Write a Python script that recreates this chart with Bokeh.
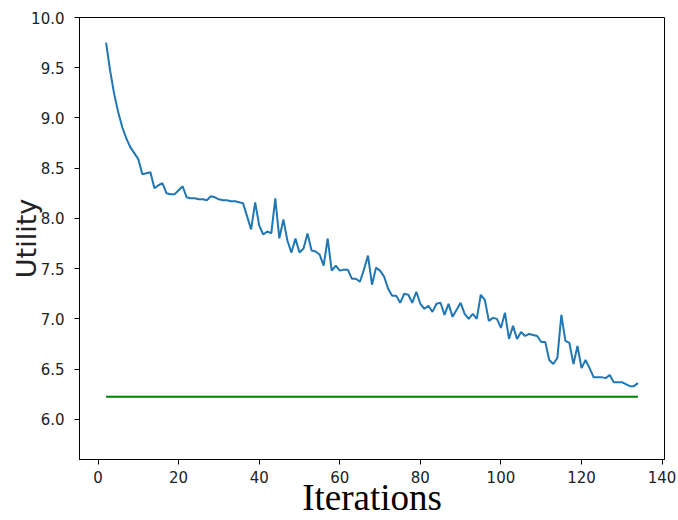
from bokeh.plotting import figure
from bokeh.models import Range1d, FixedTicker, PrintfTickFormatter
from bokeh.embed import file_html
from bokeh.resources import INLINE

iterations = list(range(2, 135))
utility = [
    9.75, 9.47, 9.24, 9.06, 8.91, 8.80, 8.71, 8.65, 8.59, 8.44,
    8.45, 8.46, 8.30, 8.33, 8.35, 8.25, 8.24, 8.24, 8.28, 8.32,
    8.21, 8.20, 8.20, 8.19, 8.19, 8.18, 8.22, 8.21, 8.19, 8.18,
    8.18, 8.17, 8.17, 8.16, 8.15, 8.02, 7.89, 8.16, 7.93, 7.84,
    7.87, 7.85, 8.20, 7.80, 7.99, 7.78, 7.66, 7.80, 7.66, 7.70,
    7.85, 7.68, 7.67, 7.64, 7.53, 7.80, 7.48, 7.53, 7.48, 7.49,
    7.49, 7.40, 7.40, 7.37, 7.49, 7.63, 7.34, 7.51, 7.48, 7.42,
    7.30, 7.23, 7.23, 7.16, 7.25, 7.24, 7.16, 7.27, 7.15, 7.10,
    7.13, 7.07, 7.15, 7.16, 7.04, 7.15, 7.02, 7.09, 7.16, 7.05,
    7.00, 7.05, 7.00, 7.24, 7.19, 6.98, 7.01, 7.00, 6.91, 7.06,
    6.80, 6.93, 6.80, 6.87, 6.83, 6.85, 6.84, 6.83, 6.77, 6.77,
    6.59, 6.55, 6.61, 7.04, 6.78, 6.76, 6.55, 6.73, 6.51, 6.59,
    6.51, 6.42, 6.42, 6.42, 6.41, 6.44, 6.37, 6.37, 6.37, 6.35,
    6.33, 6.33, 6.36,
]
baseline_x = [2, 134]
baseline_y = [6.225, 6.225]

x_ticks = [0, 20, 40, 60, 80, 100, 120, 140]
y_ticks = [6.0, 6.5, 7.0, 7.5, 8.0, 8.5, 9.0, 9.5, 10.0]

p = figure(width=678, height=520, output_backend="svg", toolbar_location=None,
           x_range=Range1d(-4.6, 140.6), y_range=Range1d(5.6, 10.0),
           min_border_left=79, min_border_right=14, min_border_top=17, min_border_bottom=61)

p.line(iterations, utility, line_color="#1f77b4", line_width=2)
p.line(baseline_x, baseline_y, line_color="green", line_width=2)

p.xgrid.visible = False
p.ygrid.visible = False
p.outline_line_color = "black"
p.outline_line_width = 1
p.outline_line_alpha = 1

for ax in (p.xaxis[0], p.yaxis[0]):
    ax.axis_line_color = "black"
    ax.major_tick_line_color = "black"
    ax.major_tick_out = 5
    ax.major_tick_in = 0
    ax.minor_tick_line_color = None
    ax.major_label_text_font = "DejaVu Sans"
    ax.major_label_text_font_size = "15px"
    ax.major_label_text_color = "#222222"

p.xaxis.ticker = FixedTicker(ticks=x_ticks)
p.yaxis.ticker = FixedTicker(ticks=y_ticks)
p.yaxis.formatter = PrintfTickFormatter(format="%.1f")
p.xaxis.major_label_standoff = 6
p.yaxis.major_label_standoff = 10

p.xaxis.axis_label = "Iterations"
p.xaxis.axis_label_text_font = "Liberation Serif"
p.xaxis.axis_label_text_font_size = "37px"
p.xaxis.axis_label_text_font_style = "normal"
p.xaxis.axis_label_text_color = "black"
p.xaxis.axis_label_standoff = -9

p.yaxis.axis_label = "Utility"
p.yaxis.axis_label_text_font = "DejaVu Sans"
p.yaxis.axis_label_text_font_size = "27px"
p.yaxis.axis_label_text_font_style = "normal"
p.yaxis.axis_label_text_color = "#222222"
p.yaxis.axis_label_standoff = -14

open("out.html", "w").write(file_html(p, INLINE))
